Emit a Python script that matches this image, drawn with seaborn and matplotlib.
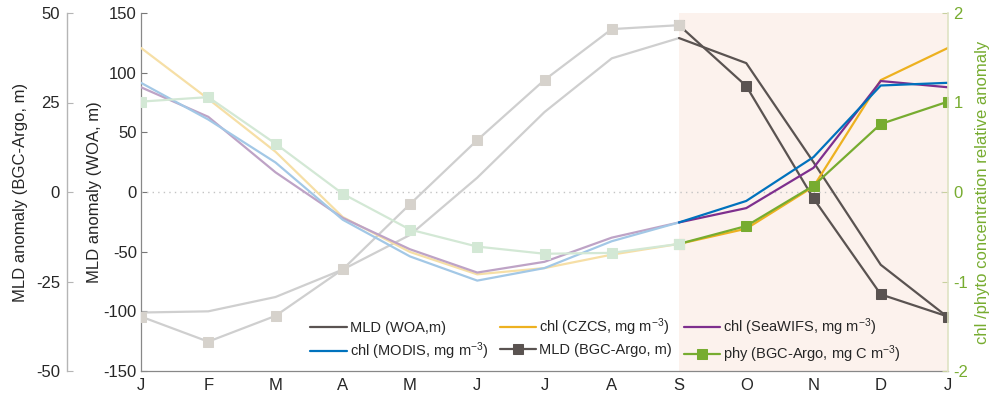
import numpy as np
import pandas as pd
import matplotlib
matplotlib.use("Agg")
import matplotlib.pyplot as plt
import seaborn as sns

months = ['J', 'F', 'M', 'A', 'M', 'J', 'J', 'A', 'S', 'O', 'N', 'D', 'J']
mld_woa = [-101, -100, -88, -65, -36, 12, 67, 112, 129, 108, 25, -61, -105]
mld_bgc = [-34.8, -41.8, -34.6, -21.6, -3.4, 14.5, 31.3, 45.5, 46.6, 29.6, -1.8, -28.6, -34.8]
chl_czcs = [1.61, 1.04, 0.45, -0.28, -0.67, -0.92, -0.85, -0.70, -0.58, -0.41, 0.06, 1.25, 1.61]
chl_modis = [1.22, 0.81, 0.33, -0.31, -0.72, -0.99, -0.85, -0.55, -0.34, -0.10, 0.39, 1.19, 1.22]
chl_seawifs = [1.17, 0.84, 0.22, -0.29, -0.64, -0.90, -0.78, -0.51, -0.34, -0.18, 0.27, 1.24, 1.17]
phy_bgc = [1.01, 1.06, 0.54, -0.02, -0.42, -0.61, -0.69, -0.68, -0.58, -0.38, 0.07, 0.76, 1.01]

sns.set_style("white")
plt.rcParams['font.family'] = ['Liberation Sans', 'DejaVu Sans']
plt.rcParams['mathtext.fontset'] = 'custom'
plt.rcParams['mathtext.rm'] = 'Liberation Sans'
plt.rcParams['mathtext.it'] = 'Liberation Sans'
plt.rcParams['axes.unicode_minus'] = False

x = np.arange(len(months))
df = pd.DataFrame({'x': x, 'woa': mld_woa, 'bgc': mld_bgc, 'czcs': chl_czcs,
                   'modis': chl_modis, 'seawifs': chl_seawifs, 'phy': phy_bgc})
early = df[df.x <= 8]
late = df[df.x >= 8]

fig = plt.figure(figsize=(9.99, 3.98), dpi=100)
ax = fig.add_axes([141 / 999, 27 / 398, 807 / 999, 358 / 398])
axb = ax.twinx()
axr = ax.twinx()

dark = '#5a5351'
fade_gray = '#cfcfcf'
fade_bgc = '#d6d2cc'
cols = {'czcs': '#EDB120', 'modis': '#0072BD', 'seawifs': '#7E2F8E', 'phy': '#77AC30'}
fades = {'czcs': '#f6dfa6', 'modis': '#a3c8e6', 'seawifs': '#bea3c6', 'phy': '#d3e8d5'}
lw = 1.6
ms = 7.5

# background shading and zero line
ax.axvspan(8, 12, color='#fcf2ed', zorder=0, lw=0)
ax.axhline(0, color='#c4c4c4', ls=(0, (1, 3)), lw=1.0, zorder=1)

# main axis: WOA MLD
sns.lineplot(data=early, x='x', y='woa', ax=ax, color=fade_gray, lw=lw, legend=False)
sns.lineplot(data=late, x='x', y='woa', ax=ax, color=dark, lw=lw, label='MLD (WOA,m)')

# BGC-Argo MLD
sns.lineplot(data=late, x='x', y='bgc', ax=axb, color=dark, lw=lw, marker='s',
             markersize=ms, markeredgecolor=dark, label='MLD (BGC-Argo, m)')
sns.lineplot(data=early, x='x', y='bgc', ax=axb, color=fade_gray, lw=lw, marker='s',
             markersize=ms, markerfacecolor=fade_bgc, markeredgecolor=fade_bgc, legend=False)

# chl / phy right axis
labels = {'czcs': 'chl (CZCS, mg m$^{-3}$)', 'modis': 'chl (MODIS, mg m$^{-3}$)',
          'seawifs': 'chl (SeaWIFS, mg m$^{-3}$)'}
for k in ['czcs', 'seawifs', 'modis']:
    sns.lineplot(data=early, x='x', y=k, ax=axr, color=fades[k], lw=lw, legend=False)
sns.lineplot(data=early, x='x', y='phy', ax=axr, color=fades['phy'], lw=lw, marker='s',
             markersize=ms, markeredgecolor=fades['phy'], legend=False, zorder=3)
for k in ['czcs', 'seawifs', 'modis']:
    sns.lineplot(data=late, x='x', y=k, ax=axr, color=cols[k], lw=lw, label=labels[k])
sns.lineplot(data=late, x='x', y='phy', ax=axr, color=cols['phy'], lw=lw,
             marker='s', markersize=ms, markeredgecolor=cols['phy'],
             label='phy (BGC-Argo, mg C m$^{-3}$)', zorder=2)
# faded S marker on top
sns.lineplot(data=early[early.x == 8], x='x', y='phy', ax=axr, color=fades['phy'], lw=0,
             marker='s', markersize=ms, markeredgecolor=fades['phy'], legend=False, zorder=4)

for a in (ax, axb, axr):
    lg = a.get_legend()
    if lg is not None:
        lg.remove()
    a.set_xlim(0, 12)
    a.set_xlabel('')

ax.set_ylim(-150, 150)
axb.set_ylim(-50, 50)
axr.set_ylim(-2, 2)

ax.set_xticks(x)
ax.set_xticklabels(months)
ax.set_yticks([-150, -100, -50, 0, 50, 100, 150])
axb.set_yticks([-50, -25, 0, 25, 50])
axr.set_yticks([-2, -1, 0, 1, 2])

fs = 12
txt = '#262626'
ax.tick_params(axis='both', direction='in', length=4, width=0.8, colors='#777777',
               labelcolor=txt, labelsize=fs, pad=3)
ax.tick_params(axis='x', pad=5)
ax.set_ylabel('MLD anomaly (WOA, m)', fontsize=fs, color=txt, labelpad=1)

axb.yaxis.set_ticks_position('left')
axb.yaxis.set_label_position('left')
axb.spines['left'].set_position(('outward', 74 * 0.72))
axb.spines['left'].set_visible(True)
for s in ['right', 'top', 'bottom']:
    axb.spines[s].set_visible(False)
axb.spines['left'].set_color('#b5b5b5')
axb.spines['left'].set_linewidth(1.0)
axb.tick_params(axis='y', direction='in', length=4, width=0.8, colors='#b5b5b5',
                labelcolor=txt, labelsize=fs, pad=5)
axb.set_ylabel('MLD anomaly (BGC-Argo, m)', fontsize=fs, color=txt, labelpad=6)

green = '#77AC30'
for s in ['left', 'top', 'bottom']:
    axr.spines[s].set_visible(False)
axr.spines['right'].set_color('#dfe3c4')
axr.spines['right'].set_linewidth(1.2)
axr.tick_params(axis='y', direction='in', length=4, width=0.8, colors='#c8d0a0',
                labelcolor=green, labelsize=fs, pad=4)
axr.set_ylabel('chl /phyto concentration relative anomaly', fontsize=fs, color=green,
               labelpad=5)

ax.spines['top'].set_visible(False)
ax.spines['right'].set_visible(False)
ax.spines['left'].set_color('#888888')
ax.spines['bottom'].set_color('#888888')
ax.spines['left'].set_linewidth(0.9)
ax.spines['bottom'].set_linewidth(0.9)

# legend
h1, l1 = ax.get_legend_handles_labels()
h2, l2 = axb.get_legend_handles_labels()
h3, l3 = axr.get_legend_handles_labels()
hd = dict(zip(l1 + l2 + l3, h1 + h2 + h3))
order = ['MLD (WOA,m)', labels['modis'], labels['czcs'], 'MLD (BGC-Argo, m)',
         labels['seawifs'], 'phy (BGC-Argo, mg C m$^{-3}$)']
leg = fig.legend([hd[o] for o in order], order, ncol=3, loc='lower left',
                 bbox_to_anchor=(303 / 999, 26 / 398), frameon=False, fontsize=10.5,
                 handlelength=2.5, handletextpad=0.2, columnspacing=0.8,
                 labelspacing=0.35, borderpad=0)
for t in leg.get_texts():
    t.set_color(txt)

fig.savefig('out.png', dpi=100)
